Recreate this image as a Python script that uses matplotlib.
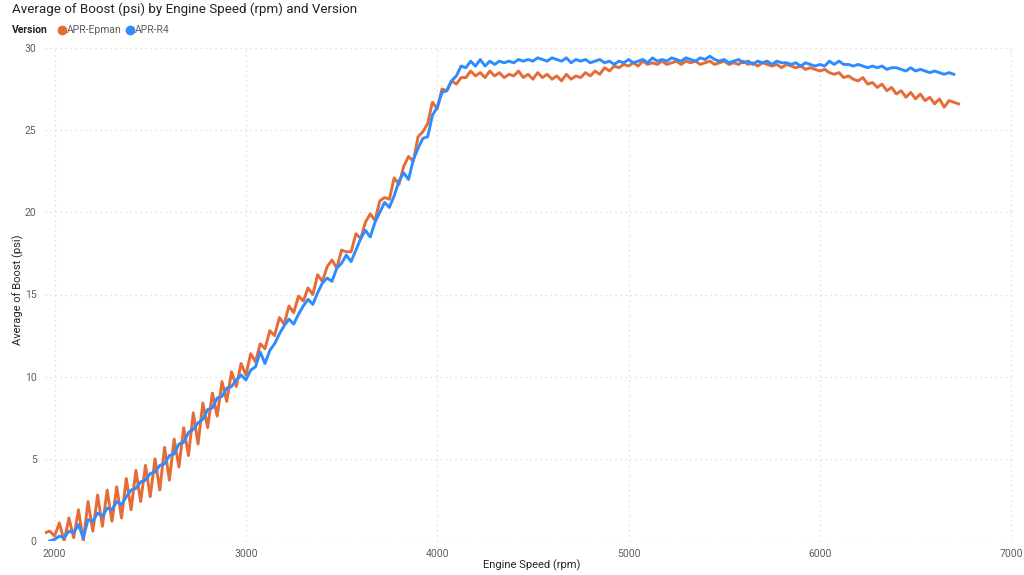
import matplotlib
matplotlib.use("Agg")
import matplotlib.pyplot as plt

# ---- data ----
series_names = ["APR-Epman", "APR-R4"]
title_text = "Average of Boost (psi) by Engine Speed (rpm) and Version"
x_label = "Engine Speed (rpm)"
y_label = "Average of Boost (psi)"
x_ticks = [2000, 3000, 4000, 5000, 6000, 7000]
y_ticks = [0, 5, 10, 15, 20, 25, 30]

# APR-Epman: engine speed bins of 25 rpm starting at 1950 rpm
epman_start_rpm = 1950
epman_step_rpm = 25
boost_epman = [
    0.5, 0.6, 0.3, 1.1, 0.0, 1.4, 0.2, 1.9,
    0.0, 2.4, 0.6, 2.8, 0.9, 3.1, 1.2, 3.3,
    1.4, 3.8, 1.9, 4.3, 2.4, 4.6, 2.7, 5.0,
    3.1, 5.7, 3.7, 6.2, 4.5, 6.9, 5.2, 7.8,
    5.9, 8.4, 6.9, 9.0, 7.6, 9.7, 8.5, 10.3,
    9.4, 10.8, 10.1, 11.4, 10.9, 12.0, 11.7, 12.8,
    12.5, 13.6, 13.2, 14.3, 13.9, 14.9, 14.6, 15.4,
    15.0, 16.2, 15.8, 16.7, 17.1, 16.6, 17.7, 17.6,
    17.6, 18.7, 18.4, 19.4, 19.9, 19.5, 20.7, 20.9,
    20.8, 22.1, 21.7, 22.8, 23.4, 23.1, 24.6, 24.9,
    25.4, 26.7, 26.3, 27.5, 27.4, 28.0, 27.8, 28.2,
    28.2, 28.6, 28.3, 28.5, 28.2, 28.6, 28.3, 28.5,
    28.2, 28.4, 28.3, 28.6, 28.2, 28.4, 28.1, 28.5,
    28.2, 28.4, 28.1, 28.3, 28.0, 28.4, 28.1, 28.3,
    28.2, 28.5, 28.3, 28.6, 28.4, 28.8, 28.6, 28.9,
    28.8, 29.0, 28.9, 29.1, 28.9, 29.2, 29.0, 29.1,
    29.0, 29.2, 29.0, 29.1, 29.2, 29.0, 29.2, 29.1,
    29.2, 29.0, 29.1, 29.2, 29.0, 29.1, 29.2, 29.0,
    29.1, 29.0, 29.2, 29.0, 29.1, 28.9, 29.1, 29.0,
    28.9, 29.0, 28.8, 29.0, 28.9, 28.8, 28.9, 28.7,
    28.8, 28.7, 28.6, 28.7, 28.5, 28.4, 28.5, 28.2,
    28.3, 28.1, 28.0, 28.2, 27.8, 27.9, 27.6, 27.8,
    27.4, 27.6, 27.2, 27.4, 27.0, 27.3, 26.9, 27.2,
    26.8, 27.0, 26.6, 26.9, 26.4, 26.8, 26.7, 26.6,
]

# APR-R4: engine speed bins of 25 rpm starting at 1975 rpm
r4_start_rpm = 1975
r4_step_rpm = 25
boost_r4 = [
    0.0, 0.1, 0.3, 0.2, 0.6, 0.5, 1.0, 0.2,
    1.3, 1.2, 1.7, 1.5, 2.0, 1.9, 2.4, 2.2,
    2.7, 3.1, 3.2, 3.6, 3.7, 4.1, 4.2, 4.6,
    4.7, 5.2, 5.3, 5.9, 6.0, 6.6, 6.8, 7.2,
    7.4, 8.0, 8.1, 8.7, 8.8, 9.3, 9.4, 9.8,
    10.1, 9.8, 10.4, 10.6, 11.5, 10.8, 11.6, 12.0,
    12.6, 13.1, 13.5, 13.2, 13.8, 14.3, 14.7, 14.4,
    15.1, 15.7, 16.0, 15.8, 16.6, 16.9, 17.4, 17.0,
    17.7, 18.4, 18.9, 18.5, 19.4, 20.0, 20.6, 20.3,
    21.0, 21.9, 22.4, 22.0, 23.2, 23.9, 24.5, 24.6,
    25.9, 26.4, 27.3, 27.4, 28.0, 28.3, 28.9, 28.8,
    29.2, 28.9, 29.3, 28.9, 29.2, 29.0, 29.2, 29.1,
    29.2, 29.1, 29.3, 29.2, 29.3, 29.2, 29.4, 29.3,
    29.2, 29.4, 29.3, 29.2, 29.4, 29.1, 29.3, 29.2,
    29.3, 29.1, 29.2, 29.3, 29.1, 29.2, 29.0, 29.2,
    29.1, 29.3, 29.1, 29.2, 29.3, 29.1, 29.4, 29.2,
    29.3, 29.2, 29.4, 29.3, 29.2, 29.4, 29.3, 29.2,
    29.4, 29.3, 29.5, 29.3, 29.2, 29.3, 29.1, 29.2,
    29.3, 29.1, 29.2, 29.0, 29.2, 29.1, 29.2, 29.0,
    29.2, 29.1, 29.1, 29.0, 29.1, 28.9, 29.1, 29.0,
    28.9, 29.0, 28.9, 29.2, 29.0, 29.2, 29.0, 29.0,
    28.9, 29.0, 28.9, 28.8, 28.9, 28.8, 28.9, 28.7,
    28.8, 28.8, 28.7, 28.6, 28.8, 28.6, 28.7, 28.6,
    28.5, 28.6, 28.5, 28.4, 28.5, 28.4,
]

rpm_epman = [epman_start_rpm + i * epman_step_rpm for i in range(len(boost_epman))]
rpm_r4 = [r4_start_rpm + i * r4_step_rpm for i in range(len(boost_r4))]

# ---- style ----
ORANGE = "#E66C37"
BLUE = "#2E8CFF"
TEXT_DARK = "#252423"
TEXT_GRAY = "#605E5C"
GRID = "#D9D9D9"
FONT = ["Roboto", "DejaVu Sans"]
plt.rcParams["font.family"] = FONT

W, H = 1024, 575
fig = plt.figure(figsize=(W / 100, H / 100), dpi=100)
ax = fig.add_axes([45 / W, 34 / H, (1015 - 45) / W, (541 - 48) / H])

ax.plot(rpm_epman, boost_epman, color=ORANGE, lw=2.1, solid_joinstyle="round", zorder=3)
ax.plot(rpm_r4, boost_r4, color=BLUE, lw=2.1, solid_joinstyle="round", zorder=4)

ax.set_xlim(1950, 7020)
ax.set_ylim(0, 30)
ax.set_xticks(x_ticks)
ax.set_yticks(y_ticks)
ax.grid(True, color=GRID, linestyle=(0, (1, 3)), linewidth=0.9)
ax.set_axisbelow(True)
for s in ax.spines.values():
    s.set_visible(False)
ax.tick_params(length=0, labelsize=7.5, labelcolor=TEXT_GRAY, pad=6)

# axis titles placed in figure pixels
fig.text(532 / W, 1 - 565 / H, x_label, fontsize=8, color=TEXT_DARK,
         ha="center", va="center")
fig.text(18 / W, 1 - 290 / H, y_label, fontsize=8, color=TEXT_DARK,
         ha="center", va="center", rotation=90)

# title and legend in Power BI style
fig.text(12 / W, 1 - 9 / H, title_text, fontsize=9.6, color=TEXT_DARK,
         ha="left", va="center")
fig.text(12 / W, 1 - 30 / H, "Version", fontsize=7.5, fontweight="bold",
         color=TEXT_DARK, ha="left", va="center")
legend_x = [62, 130]
for name, col, lx in zip(series_names, [ORANGE, BLUE], legend_x):
    fig.lines.append(plt.Line2D([lx / W], [1 - 30 / H], marker="o", markersize=6,
                                color=col, linestyle="none", transform=fig.transFigure))
    fig.text((lx + 5) / W, 1 - 30 / H, name, fontsize=7.5, color=TEXT_GRAY,
             ha="left", va="center")

fig.savefig("out.png", dpi=100, facecolor="white")
